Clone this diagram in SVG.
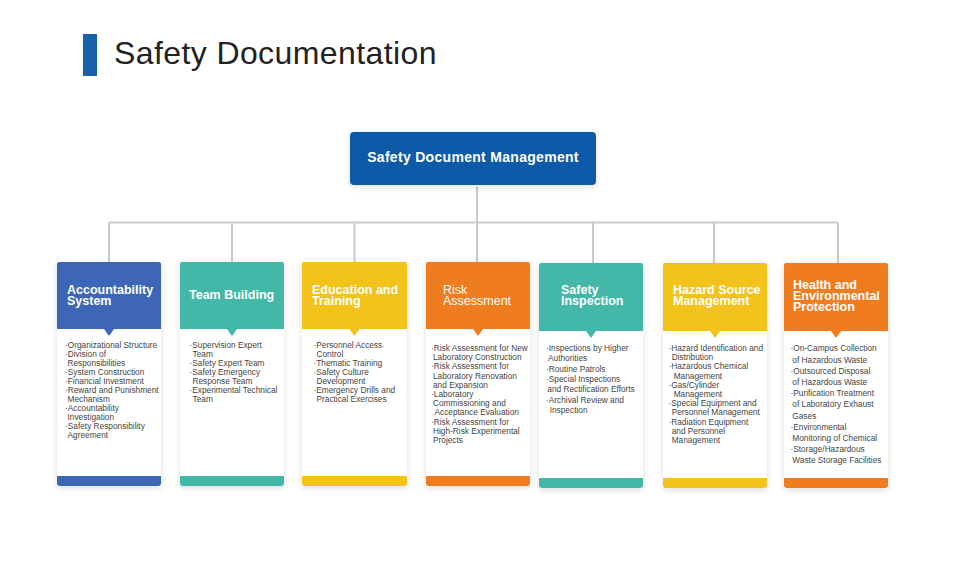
<svg xmlns="http://www.w3.org/2000/svg" width="960" height="579" viewBox="0 0 960 579">
<defs>
<filter id="sh" x="-20%" y="-20%" width="140%" height="140%">
<feDropShadow dx="0" dy="2" stdDeviation="3" flood-color="#000" flood-opacity="0.13"/>
</filter>
<style>
.title{font-family:"Liberation Sans",Arial,sans-serif;font-size:32px;fill:#222;letter-spacing:0.4px}
.top{font-family:"Liberation Sans",Arial,sans-serif;font-size:14px;font-weight:bold;fill:#fff;letter-spacing:0.3px}
.hd{font-family:"Liberation Sans",Arial,sans-serif;font-size:12.5px;font-weight:bold;fill:#fff}
.hdr{font-family:"Liberation Sans",Arial,sans-serif;font-size:12.5px;fill:#fff}
.bd{font-family:"Liberation Sans",Arial,sans-serif;font-size:8.3px;fill:#444}
.con{stroke:#c9c9c9;stroke-width:2;fill:none}
.card{fill:#fff;filter:url(#sh)}
.blue{fill:#3d67b6}
.teal{fill:#43b7a8}
.yel{fill:#f3c31b}
.org{fill:#ef7d20}
</style>
</defs>
<rect width="960" height="579" fill="#fff"/>
<g id="title">
<rect x="83" y="34" width="14" height="42" fill="#1a5fab"/>
<text class="title" x="114" y="63.5">Safety Documentation</text>
</g>
<g id="connectors">
<path class="con" d="M477 187V222.5M109 222.5H838M109 222.5V262M232 222.5V262M354.5 222.5V262M477 222.5V262M593 222.5V263M714 222.5V263M838 222.5V263"/>
</g>
<g id="root">
<rect x="350" y="132" width="246" height="53" rx="4" fill="#0d5aa8" filter="url(#sh)"/>
<text class="top" x="473" y="162.3" text-anchor="middle">Safety Document Management</text>
</g>
<g id="n1">
<rect class="card" x="57" y="262" width="104" height="224" rx="3"/>
<path class="blue" d="M57 264a2 2 0 0 1 2-2h100a2 2 0 0 1 2 2V329H57Z"/>
<path class="blue" d="M104 329h10l-5 7Z"/>
<path class="blue" d="M57 476h104v7a3 3 0 0 1-3 3H60a3 3 0 0 1-3-3Z"/>
<text class="hd"><tspan x="67" y="293.5">Accountability</tspan><tspan x="67" y="304.5">System</tspan></text>
<text class="bd"><tspan x="65" y="347.5">·Organizational Structure</tspan><tspan x="65" y="356.5">·Division of</tspan><tspan x="67.5" y="365.5">Responsibilities</tspan><tspan x="65" y="374.5">·System Construction</tspan><tspan x="65" y="383.5">·Financial Investment</tspan><tspan x="65" y="392.5">·Reward and Punishment</tspan><tspan x="67.5" y="401.5">Mechanism</tspan><tspan x="65" y="410.5">·Accountability</tspan><tspan x="67.5" y="419.5">Investigation</tspan><tspan x="65" y="428.5">·Safety Responsibility</tspan><tspan x="67.5" y="437.5">Agreement</tspan></text>
</g>
<g id="n2">
<rect class="card" x="180" y="262" width="104" height="224" rx="3"/>
<path class="teal" d="M180 264a2 2 0 0 1 2-2h100a2 2 0 0 1 2 2V329H180Z"/>
<path class="teal" d="M227 329h10l-5 7Z"/>
<path class="teal" d="M180 476h104v7a3 3 0 0 1-3 3H183a3 3 0 0 1-3-3Z"/>
<text class="hd" x="189" y="299">Team Building</text>
<text class="bd"><tspan x="189.5" y="347.5">·Supervision Expert</tspan><tspan x="192.5" y="356.5">Team</tspan><tspan x="189.5" y="365.5">·Safety Expert Team</tspan><tspan x="189.5" y="374.5">·Safety Emergency</tspan><tspan x="192.5" y="383.5">Response Team</tspan><tspan x="189.5" y="392.5">·Experimental Technical</tspan><tspan x="192.5" y="401.5">Team</tspan></text>
</g>
<g id="n3">
<rect class="card" x="302" y="262" width="105" height="224" rx="3"/>
<path class="yel" d="M302 264a2 2 0 0 1 2-2h101a2 2 0 0 1 2 2V329H302Z"/>
<path class="yel" d="M349.5 329h10l-5 7Z"/>
<path class="yel" d="M302 476h105v7a3 3 0 0 1-3 3H305a3 3 0 0 1-3-3Z"/>
<text class="hd"><tspan x="312" y="293.5">Education and</tspan><tspan x="312" y="304.5">Training</tspan></text>
<text class="bd"><tspan x="313.5" y="348">·Personnel Access</tspan><tspan x="316.5" y="357">Control</tspan><tspan x="313.5" y="366">·Thematic  Training</tspan><tspan x="313.5" y="375">·Safety Culture</tspan><tspan x="316.5" y="384">Development</tspan><tspan x="313.5" y="393">·Emergency Drills and</tspan><tspan x="316.5" y="402">Practical Exercises</tspan></text>
</g>
<g id="n4">
<rect class="card" x="426" y="262" width="104" height="224" rx="3"/>
<path class="org" d="M426 264a2 2 0 0 1 2-2h100a2 2 0 0 1 2 2V329H426Z"/>
<path class="org" d="M473 329h10l-5 7Z"/>
<path class="org" d="M426 476h104v7a3 3 0 0 1-3 3H429a3 3 0 0 1-3-3Z"/>
<text class="hdr"><tspan x="443" y="294">Risk</tspan><tspan x="443" y="305">Assessment</tspan></text>
<text class="bd"><tspan x="431" y="351">·Risk Assessment for New</tspan><tspan x="433" y="360.2">Laboratory Construction</tspan><tspan x="431" y="369.4">·Risk Assessment for</tspan><tspan x="433" y="378.6">Laboratory Renovation</tspan><tspan x="433" y="387.8">and Expansion</tspan><tspan x="431" y="397">·Laboratory</tspan><tspan x="433" y="406.2">Commissioning and</tspan><tspan x="434.5" y="415.4">Acceptance Evaluation</tspan><tspan x="431" y="424.6">·Risk Assessment for</tspan><tspan x="433" y="433.8">High-Risk Experimental</tspan><tspan x="433" y="443">Projects</tspan></text>
</g>
<g id="n5">
<rect class="card" x="539" y="263" width="104" height="225" rx="3"/>
<path class="teal" d="M539 265a2 2 0 0 1 2-2h100a2 2 0 0 1 2 2V331H539Z"/>
<path class="teal" d="M586 331h10l-5 7Z"/>
<path class="teal" d="M539 478h104v7a3 3 0 0 1-3 3H542a3 3 0 0 1-3-3Z"/>
<text class="hd"><tspan x="561" y="293.5">Safety</tspan><tspan x="561" y="304.5">Inspection</tspan></text>
<text class="bd"><tspan x="546" y="351">·Inspections by Higher</tspan><tspan x="548" y="361.3">Authorities</tspan><tspan x="546" y="371.6">·Routine Patrols</tspan><tspan x="546" y="381.9">·Special Inspections</tspan><tspan x="547.3" y="392.2">and Rectification Efforts</tspan><tspan x="546" y="402.5">·Archival Review and</tspan><tspan x="549.7" y="412.8">Inspection</tspan></text>
</g>
<g id="n6">
<rect class="card" x="663" y="263" width="104" height="225" rx="3"/>
<path class="yel" d="M663 265a2 2 0 0 1 2-2h100a2 2 0 0 1 2 2V331H663Z"/>
<path class="yel" d="M710 331h10l-5 7Z"/>
<path class="yel" d="M663 478h104v7a3 3 0 0 1-3 3H666a3 3 0 0 1-3-3Z"/>
<text class="hd"><tspan x="673" y="293.5">Hazard Source</tspan><tspan x="673" y="304.5">Management</tspan></text>
<text class="bd"><tspan x="668.5" y="351">·Hazard Identification and</tspan><tspan x="671.7" y="360.2">Distribution</tspan><tspan x="668.5" y="369.4">·Hazardous Chemical</tspan><tspan x="673.7" y="378.6">Management</tspan><tspan x="668.5" y="387.8">·Gas/Cylinder</tspan><tspan x="673.7" y="397">Management</tspan><tspan x="668.5" y="406.2">·Special Equipment and</tspan><tspan x="671.7" y="415.4">Personnel Management</tspan><tspan x="668.5" y="424.6">·Radiation Equipment</tspan><tspan x="671.7" y="433.8">and Personnel</tspan><tspan x="671.7" y="443">Management</tspan></text>
</g>
<g id="n7">
<rect class="card" x="784" y="263" width="104" height="225" rx="3"/>
<path class="org" d="M784 265a2 2 0 0 1 2-2h100a2 2 0 0 1 2 2V331H784Z"/>
<path class="org" d="M831 331h10l-5 7Z"/>
<path class="org" d="M784 478h104v7a3 3 0 0 1-3 3H787a3 3 0 0 1-3-3Z"/>
<text class="hd"><tspan x="793" y="288.5">Health and</tspan><tspan x="793" y="299.5">Environmental</tspan><tspan x="793" y="310.5">Protection</tspan></text>
<text class="bd"><tspan x="790.5" y="351.3">·On-Campus Collection</tspan><tspan x="792.3" y="362.5">of Hazardous Waste</tspan><tspan x="790.5" y="373.7">·Outsourced Disposal</tspan><tspan x="792.3" y="384.9">of Hazardous Waste</tspan><tspan x="790.5" y="396.1">·Purification Treatment</tspan><tspan x="792.3" y="407.3">of Laboratory Exhaust</tspan><tspan x="792.3" y="418.5">Gases</tspan><tspan x="790.5" y="429.7">·Environmental</tspan><tspan x="792.3" y="440.9">Monitoring of Chemical</tspan><tspan x="790.5" y="452.1">·Storage/Hazardous</tspan><tspan x="792.3" y="463.3">Waste Storage Facilities</tspan></text>
</g>
</svg>
